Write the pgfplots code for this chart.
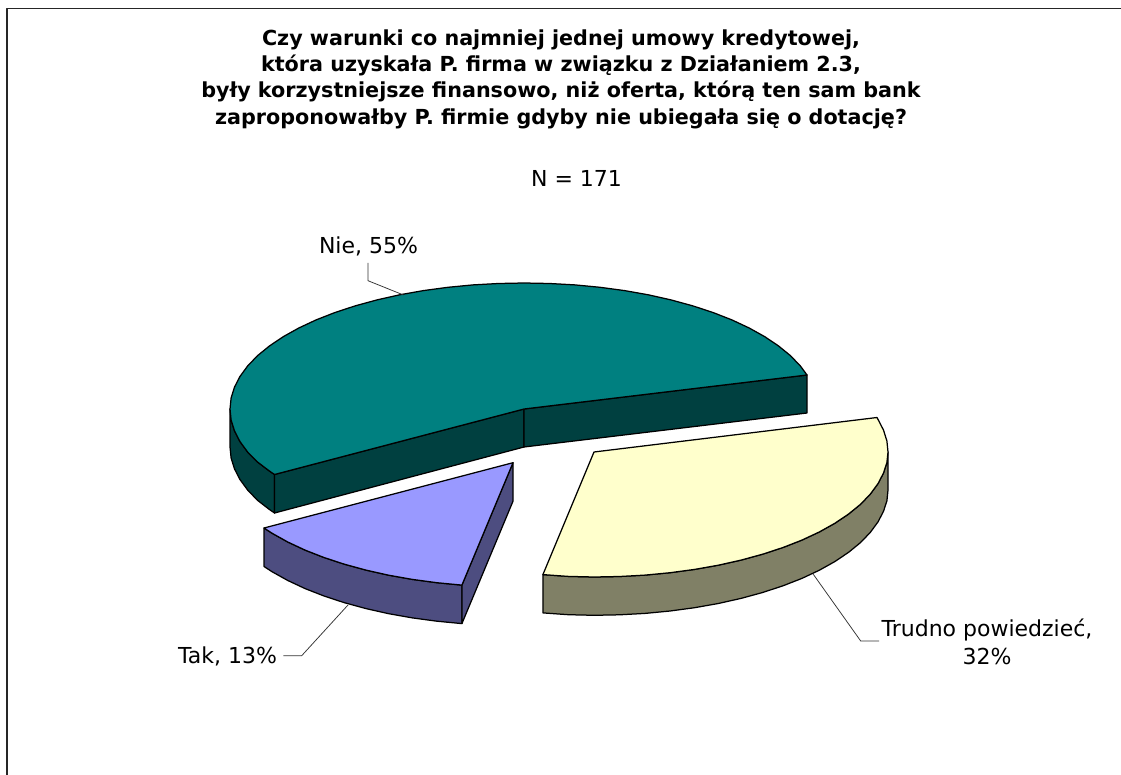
\documentclass[border=0pt]{standalone}
\usepackage{pgfplots}
\pgfplotsset{compat=1.18}
\usepackage{fontspec}
\setmainfont{DejaVu Sans}
\definecolor{tealtop}{HTML}{008080}
\definecolor{tealside}{HTML}{004040}
\definecolor{yeltop}{HTML}{FFFFCC}
\definecolor{yelside}{HTML}{808066}
\definecolor{blutop}{HTML}{9999FF}
\definecolor{bluside}{HTML}{4D4D80}
\tikzset{
  slice/.style={draw=black, line width=1.25pt},
  lead/.style={draw=black!80, line width=0.75pt, fill=none},
  lab/.style={font=\fontsize{22}{26}\selectfont, text=black, inner sep=0pt, anchor=center},
}
\begin{document}
\begin{tikzpicture}
\useasboundingbox (0,0) rectangle (1121pt,775pt);
\begin{axis}[
  at={(0,0)}, anchor=south west,
  hide axis, scale only axis, width=1121pt, height=775pt,
  xmin=0, xmax=1121, ymin=0, ymax=775, y dir=reverse,
  no markers, line join=round,
]
% frame
\addplot[draw=black!85, line width=1.2pt] coordinates {(7,775) (7,8.5) (1121,8.5)};
% teal side: outer band
\addplot[slice, fill=tealside] coordinates {
(230,409)(231.1,420)(234.5,430.9)(240,441.6)(247.7,452.1)(257.5,462)(269.4,471)(274.5,474.5)
(274.5,513)(269.4,509.5)(257.5,500.3)(247.7,490.1)(240,479.6)(234.5,468.9)(231.1,458)(230,447)} -- cycle;
% teal front faces
\addplot[slice, fill=tealside] coordinates {(274.5,474.5)(524,409)(524,447)(274.5,513)} -- cycle;
\addplot[slice, fill=tealside] coordinates {(524,409)(807,375)(807,413)(524,447)} -- cycle;
% teal top
\addplot[slice, fill=tealtop] coordinates {
(524,409)(807,375)(800.3,365.9)(790.5,355.7)(778.6,346)(764.8,336.7)(749.2,328)(731.9,319.9)
(713,312.5)(692.6,305.8)(671,299.9)(648.3,294.8)(624.6,290.6)(600.1,287.3)(575.1,284.9)(549.6,283.5)
(524,283)(498.4,283.5)(472.9,284.9)(447.9,287.3)(423.4,290.6)(399.7,294.8)(377,299.9)(355.4,305.8)
(335,312.5)(316.1,319.9)(298.8,328)(283.2,336.7)(269.4,346)(257.5,355.7)(247.7,365.9)(240,376.4)
(234.5,387.1)(231.1,398)(230,409)(231.1,420)(234.5,430.9)(240,441.6)(247.7,452.1)(257.5,462)
(269.4,471)(274.5,474.5)} -- cycle;
% yellow side
\addplot[slice, fill=yelside] coordinates {
(542.9,574.6)(568.4,576.4)(594,577)(619.6,576.5)(645.1,575.1)(670.1,572.7)(694.6,569.4)(718.3,565.2)
(741,560.1)(762.6,554.2)(783,547.5)(801.9,540.1)(819.2,532)(834.8,523.3)(848.6,514)(860.5,504.3)
(870.3,494.1)(878,483.6)(883.5,473)(886.9,462.5)(888,452)
(888,490)(886.9,500.8)(883.5,511.3)(878,521.9)(870.3,532.4)(860.5,542.6)(848.6,552.3)(834.8,561.6)
(819.2,570.3)(801.9,578.4)(783,585.8)(762.6,592.5)(741,598.4)(718.3,603.5)(694.6,607.7)(670.1,611)
(645.1,613.4)(619.6,614.8)(594,615.3)(568.4,614.7)(542.9,612.9)} -- cycle;
% yellow top
\addplot[slice, fill=yeltop] coordinates {
(594,452)(542.9,574.6)(568.4,576.4)(594,577)(619.6,576.5)(645.1,575.1)(670.1,572.7)(694.6,569.4)(718.3,565.2)
(741,560.1)(762.6,554.2)(783,547.5)(801.9,540.1)(819.2,532)(834.8,523.3)(848.6,514)(860.5,504.3)
(870.3,494.1)(878,483.6)(883.5,473)(886.9,462.5)(888,452)(886.9,441)(883.5,430.1)(878,419.4)(877,417.5)} -- cycle;
% blue side (outer)
\addplot[slice, fill=bluside] coordinates {
(264,528)(272.2,533.3)(287.8,542)(305.1,550.1)(324,557.5)(344.4,564.2)(366,570.1)(388.7,575.2)
(412.4,579.4)(436.9,582.7)(461.9,585.1)
(461.9,623.6)(436.9,621.2)(412.4,617.9)(388.7,613.7)(366,608.6)(344.4,602.7)(324,596)(305.1,588.6)
(287.8,580.5)(272.2,571.8)(264,566.5)} -- cycle;
% blue side (cut)
\addplot[slice, fill=bluside] coordinates {(513,462.7)(461.9,585.1)(461.9,623.6)(513,501.2)} -- cycle;
% blue top
\addplot[slice, fill=blutop] coordinates {
(513,462.7)(264,528)(272.2,533.3)(287.8,542)(305.1,550.1)(324,557.5)(344.4,564.2)(366,570.1)(388.7,575.2)
(412.4,579.4)(436.9,582.7)(461.9,585.1)} -- cycle;
% leaders
\addplot[lead] coordinates {(368,263)(368,280.7)(403.5,295)};
\addplot[lead] coordinates {(283.3,655.7)(301.7,655.7)(348,605)};
\addplot[lead] coordinates {(879,641)(860.7,641)(813.3,574.3)};
% texts
\node[font=\fontsize{20.7}{26.3}\selectfont\bfseries, align=center, anchor=center, inner sep=0pt] at (axis cs:561,79.2)
  {Czy warunki co najmniej jednej umowy kredytowej,\\która uzyskała P. firma w związku z Działaniem 2.3,\\były korzystniejsze finansowo, niż oferta, którą ten sam bank\\zaproponowałby P. firmie gdyby nie ubiegała się o dotację?};
\node[lab] at (axis cs:576.5,178) {N = 171};
\node[lab] at (axis cs:368.5,246.5) {Nie, 55\%};
\node[lab] at (axis cs:227.5,656) {Tak, 13\%};
\node[lab, align=center, font=\fontsize{22}{28.5}\selectfont] at (axis cs:987,642) {Trudno powiedzieć,\\32\%};
\end{axis}
\end{tikzpicture}
\end{document}
